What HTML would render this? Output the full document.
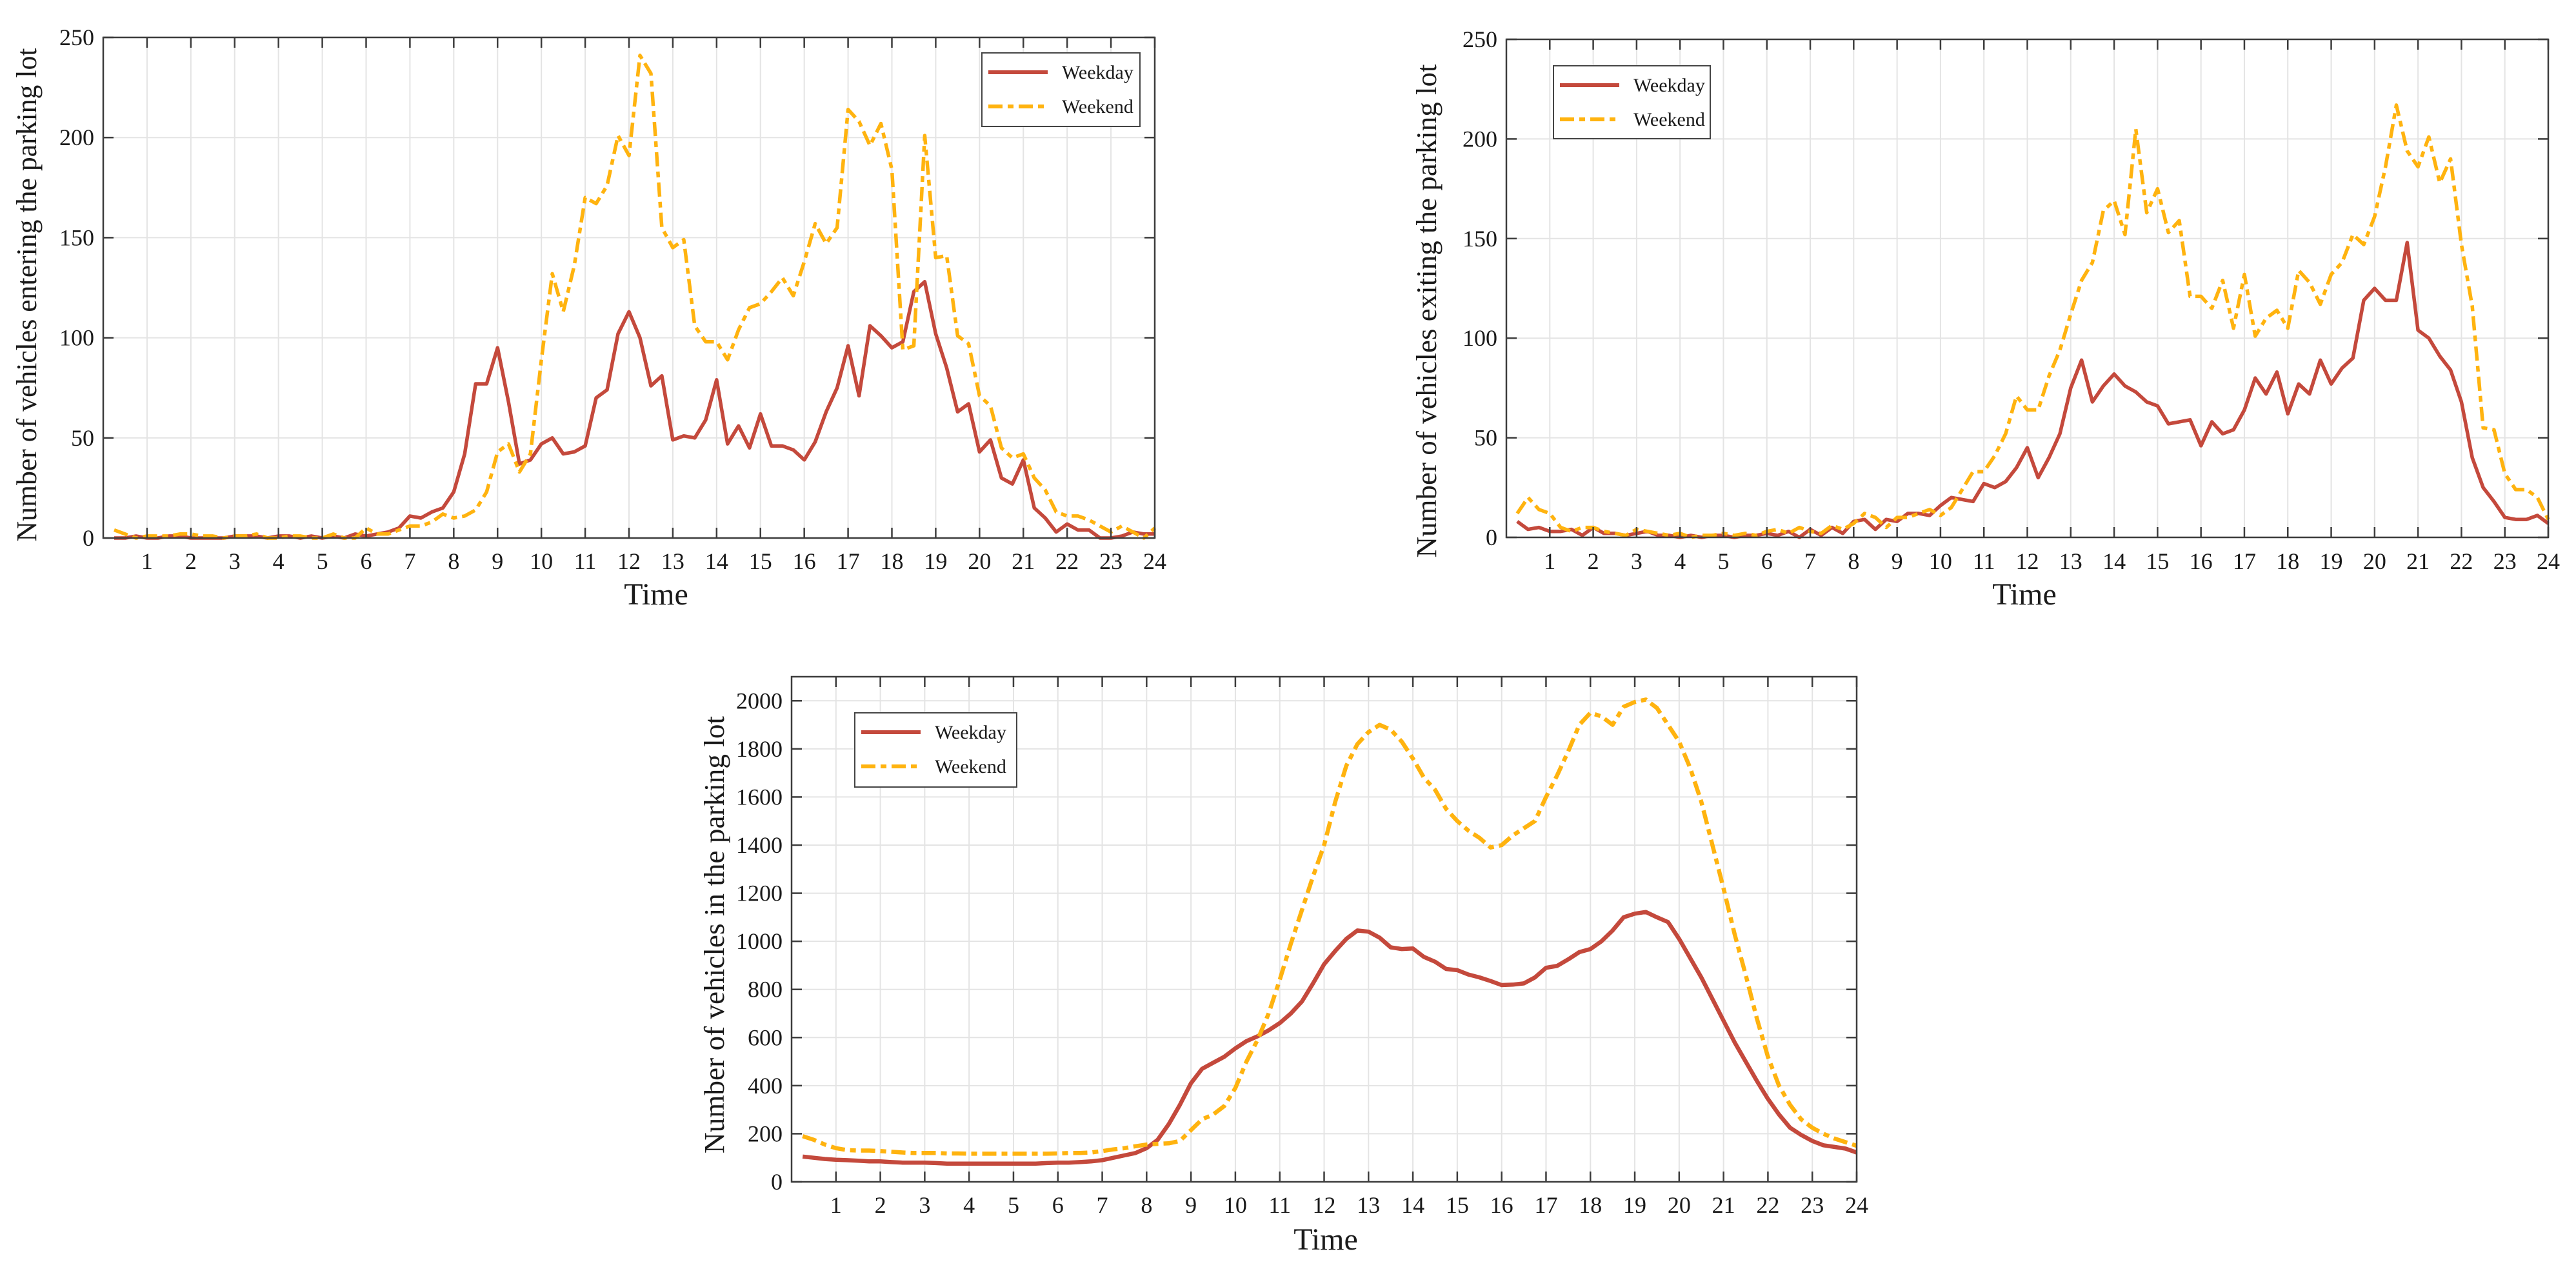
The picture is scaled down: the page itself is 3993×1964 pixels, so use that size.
<!DOCTYPE html>
<html>
<head>
<meta charset="utf-8">
<style>
  html,body{margin:0;padding:0;background:#fff;}
  svg{display:block;}
  text{font-family:"Liberation Serif","Times New Roman",serif;fill:#1a1a1a;}
</style>
</head>
<body>
<svg id="root" width="3993" height="1964" viewBox="0 0 3993 1964" xmlns="http://www.w3.org/2000/svg">
  <rect x="0" y="0" width="3993" height="1964" fill="#fff"/>
</svg>
<script>
// ---------- data ----------
const hourTicks = [1,2,3,4,5,6,7,8,9,10,11,12,13,14,15,16,17,18,19,20,21,22,23,24];
const seriesNames = ["Weekday","Weekend"];

const enterYTicks = [0,50,100,150,200,250];
const enterWeekday = [
 0,0,1,0, 0,1,1,0, 0,0,0,1, 1,1,0,1, 1,0,1,0, 1,0,2,1,
 2,3,5,11, 10,13,15,23, 42,77,77,95, 68,37,39,47, 50,42,43,46, 70,74,102,113,
 100,76,81,49, 51,50,59,79, 47,56,45,62, 46,46,44,39, 48,63,75,96, 71,106,101,95,
 98,123,128,102, 85,63,67,43, 49,30,27,39, 15,10,3,7, 4,4,0,0, 1,3,2,2];
const enterWeekend = [
 4,2,0,1, 1,1,2,2, 1,1,0,1, 1,2,0,0, 1,1,0,0, 2,0,0,5,
 2,2,4,6, 6,8,12,10, 11,14,23,43, 47,33,42,89, 132,113,136,170, 167,176,201,191,
 241,232,155,145, 149,106,98,98, 89,104,115,117, 123,130,121,138, 157,147,155,214, 208,196,207,184,
 94,96,201,140, 141,101,97,71, 66,45,40,42, 30,24,13,11, 11,9,6,3, 6,3,0,5];

const exitYTicks = [0,50,100,150,200,250];
const exitWeekday = [
 8,4,5,3, 3,4,1,5, 2,2,1,2, 3,1,1,0, 1,0,1,1, 0,1,1,2,
 1,3,0,4, 1,5,2,8, 9,4,9,8, 12,12,11,16, 20,19,18,27, 25,28,35,45,
 30,40,52,75, 89,68,76,82, 76,73,68,66, 57,58,59,46, 58,52,54,64, 80,72,83,62,
 77,72,89,77, 85,90,119,125, 119,119,148,104, 100,91,84,68, 40,25,18,10, 9,9,11,7];
const exitWeekend = [
 12,20,14,12, 5,3,5,5, 3,2,1,4, 3,2,1,2, 0,1,1,2, 1,2,1,3,
 4,2,5,3, 2,6,4,7, 12,10,5,10, 10,12,14,11, 15,24,33,33, 41,52,71,64,
 64,81,94,112, 129,138,164,169, 152,205,163,175, 153,159,121,121, 115,129,105,132, 101,110,114,105,
 134,128,117,132, 138,152,147,161, 186,217,194,186, 201,178,190,147, 116,55,54,32, 24,24,20,9];

const lotYTicks = [0,200,400,600,800,1000,1200,1400,1600,1800,2000];
const lotWeekday = [
 105,100,95,92, 90,88,85,85, 82,80,80,80, 78,76,76,76, 76,76,76,76, 76,76,78,80,
 80,82,85,90, 100,110,120,140, 175,240,320,410, 470,495,520,555, 585,605,630,660, 700,750,825,905,
 960,1010,1045,1040, 1015,975,968,970, 935,915,885,880, 862,850,835,818, 820,825,850,890, 898,925,955,968,
 1000,1045,1100,1115, 1122,1100,1080,1010, 930,850,760,670, 580,500,420,345, 280,225,195,170, 152,145,138,122];
const lotWeekend = [
 190,175,155,140, 132,130,130,128, 125,122,120,120, 120,118,118,117, 117,117,117,117, 117,117,117,118,
 120,120,122,128, 135,140,148,155, 158,160,170,215, 260,280,315,390, 500,590,700,840, 990,1130,1270,1400,
 1580,1730,1820,1870, 1900,1880,1830,1760, 1680,1630,1550,1500, 1460,1430,1390,1400, 1440,1470,1500,1600, 1690,1790,1900,1950,
 1935,1900,1975,1995, 2005,1970,1900,1830, 1720,1580,1400,1220, 1030,860,680,520, 400,320,260,225, 200,180,165,150];

// ---------- drawing ----------
const NS = "http://www.w3.org/2000/svg";
const root = document.getElementById('root');
function mk(tag, attrs, parent){
  const e = document.createElementNS(NS, tag);
  for (const k in attrs) e.setAttribute(k, attrs[k]);
  (parent||root).appendChild(e);
  return e;
}
const WD_COLOR = "#C4493C", WE_COLOR = "#FFB30F";

function drawChart(cfg){
  const g = mk('g', {});
  
  
  const L=cfg.left, R=cfg.right, T=cfg.top, B=cfg.bottom;
  const xs = h => L + (h/24)*(R-L);
  const ys = v => B - (v/cfg.ymax)*(B-T);

  // grid
  const grid = mk('g', {stroke:"#e4e4e4", "stroke-width":2}, g);
  
  
  hourTicks.forEach(h => { if (h<24) mk('line',{x1:xs(h),x2:xs(h),y1:T,y2:B},grid); });
  cfg.yticks.forEach(v => { if (v>0 && v<cfg.ymax) mk('line',{x1:L,x2:R,y1:ys(v),y2:ys(v)},grid); });

  // series
  const mkPath = (vals, color, dash, nm) => {
    let d = "";
    vals.forEach((v,i) => { const h=(i+1)*0.25; d += (i?"L":"M")+xs(h).toFixed(1)+","+ys(v).toFixed(1); });
    const p = mk('path',{d:d,fill:"none",stroke:color,"stroke-width":cfg.lw,"stroke-linejoin":"round"}, g);
    if (dash) p.setAttribute('stroke-dasharray', dash);
    
    
  };
  mkPath(cfg.wd, WD_COLOR, null, cfg.name+'-weekday-line');
  mkPath(cfg.we, WE_COLOR, "22 8 9 8", cfg.name+'-weekend-line');

  // axes box
  const box = mk('rect',{x:L,y:T,width:R-L,height:B-T,fill:"none",stroke:"#3c3c3c","stroke-width":2.5}, g);
  
  
  const tk = mk('g',{stroke:"#3c3c3c","stroke-width":2.5}, g);
  hourTicks.forEach(h => {
    mk('line',{x1:xs(h),x2:xs(h),y1:B,y2:B-16},tk);
    mk('line',{x1:xs(h),x2:xs(h),y1:T,y2:T+16},tk);
  });
  cfg.yticks.forEach(v => {
    mk('line',{x1:L,x2:L+16,y1:ys(v),y2:ys(v)},tk);
    mk('line',{x1:R,x2:R-16,y1:ys(v),y2:ys(v)},tk);
  });

  // tick labels
  hourTicks.forEach(h => {
    const t = mk('text',{x:xs(h),y:cfg.xlabY,"text-anchor":"middle","font-size":36},g);
    t.textContent = h;
    
    
  });
  cfg.yticks.forEach(v => {
    const t = mk('text',{x:L-14,y:ys(v)+12,"text-anchor":"end","font-size":36},g);
    t.textContent = v;
    
    
  });

  // axis titles
  const xt = mk('text',{x:cfg.xtX,y:cfg.xtY,"text-anchor":"middle","font-size":48},g);
  xt.textContent = "Time";
  
  
  const yt = mk('text',{x:0,y:0,"text-anchor":"middle","font-size":44,textLength:cfg.ytLen,lengthAdjust:"spacingAndGlyphs",
    transform:`translate(${cfg.ytX},${cfg.ytY}) rotate(-90)`},g);
  yt.textContent = cfg.ytitle;
  
  

  // legend
  const lg = mk('g',{},g);
  
  
  const lb = cfg.leg;
  mk('rect',{x:lb.x,y:lb.y,width:lb.w,height:lb.h,fill:"#fff",stroke:"#444","stroke-width":2},lg);
  const sx = lb.x+10, sw = 92;
  [[WD_COLOR,null,lb.y+30],[WE_COLOR,"22 8 9 8",lb.y+83]].forEach((s,i) => {
    const e = mk('g',{},lg);
    
    
    const ln = mk('line',{x1:sx,x2:sx+sw,y1:s[2],y2:s[2],stroke:s[0],"stroke-width":6},e);
    if (s[1]) ln.setAttribute('stroke-dasharray', s[1]);
    const t = mk('text',{x:sx+sw+22,y:s[2]+10,"font-size":30},e);
    t.textContent = seriesNames[i];
  });
}

drawChart({name:"entering-chart", left:160, right:1790, top:58, bottom:834, ymax:250, yticks:enterYTicks,
  wd:enterWeekday, we:enterWeekend, lw:5.5, xlabY:882, xtX:1017, xtY:937,
  ytX:56, ytY:457, ytLen:765, ytitle:"Number of vehicles entering the parking lot",
  leg:{x:1522,y:82,w:245,h:114}});

drawChart({name:"exiting-chart", left:2335, right:3950, top:61, bottom:833, ymax:250, yticks:exitYTicks,
  wd:exitWeekday, we:exitWeekend, lw:5.5, xlabY:882, xtX:3138, xtY:937,
  ytX:2226, ytY:482, ytLen:765, ytitle:"Number of vehicles exiting the parking lot",
  leg:{x:2408,y:102,w:243,h:113}});

drawChart({name:"in-lot-chart", left:1227, right:2878, top:1049, bottom:1832, ymax:2100, yticks:lotYTicks,
  wd:lotWeekday, we:lotWeekend, lw:6.5, xlabY:1880, xtX:2055, xtY:1937,
  ytX:1122, ytY:1449, ytLen:678, ytitle:"Number of vehicles in the parking lot",
  leg:{x:1325,y:1105,w:251,h:115}});
</script>
</body>
</html>
